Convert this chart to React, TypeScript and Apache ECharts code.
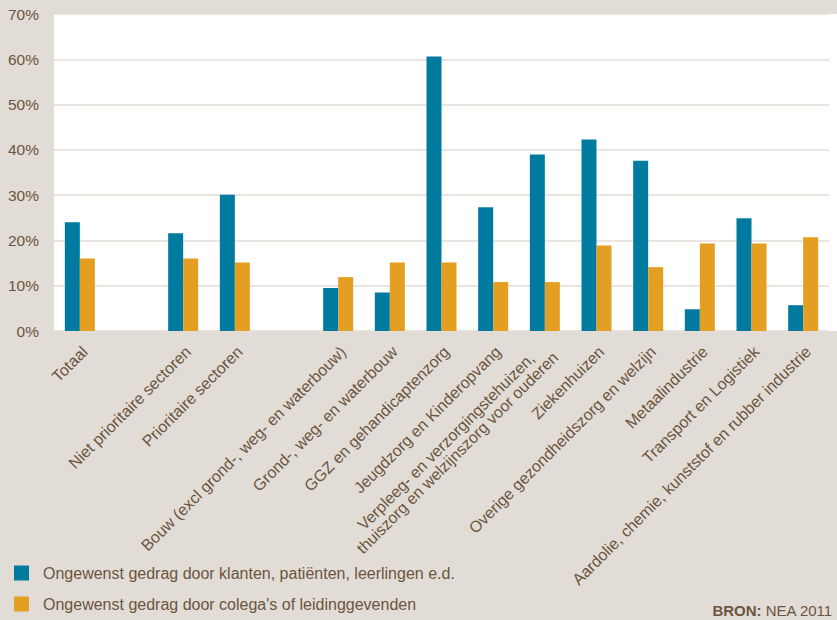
import React, { useEffect, useRef } from "react";
import * as echarts from "echarts";

const categories = [
  "Totaal",
  "",
  "Niet prioritaire sectoren",
  "Prioritaire sectoren",
  " ",
  "Bouw (excl grond-, weg- en waterbouw)",
  "Grond-, weg- en waterbouw",
  "GGZ en gehandicaptenzorg",
  "Jeugdzorg en Kinderopvang",
  "Verpleeg- en verzorgingstehuizen,\nthuiszorg en welzijnszorg voor ouderen",
  "Ziekenhuizen",
  "Overige gezondheidszorg en welzijn",
  "Metaalindustrie",
  "Transport en Logistiek",
  "Aardolie, chemie, kunststof en rubber industrie",
];

const klanten = [24.0, null, 21.6, 30.1, null, 9.5, 8.5, 60.6, 27.3, 39.0, 42.3, 37.6, 4.8, 24.9, 5.7];
const collegas = [16.0, null, 16.0, 15.1, null, 11.9, 15.1, 15.1, 10.8, 10.8, 18.9, 14.1, 19.3, 19.3, 20.7];

const seriesNames = [
  "Ongewenst gedrag door klanten, patiënten, leerlingen e.d.",
  "Ongewenst gedrag door colega's of leidinggevenden",
];

const yTicks = [0, 10, 20, 30, 40, 50, 60, 70];

const BG = "#e2dcd6";
const TEXT = "#6b553e";
const BLUE = "#007a9e";
const ORANGE = "#e49e22";
const FONT = "'Liberation Sans', Arial, sans-serif";

export default function App() {
  const ref = useRef<HTMLDivElement>(null);
  useEffect(() => {
    document.body.style.margin = "0";
    const chart = echarts.init(ref.current!, null, { renderer: "svg" });
    chart.setOption({
      animation: false,
      backgroundColor: BG,
      textStyle: { fontFamily: FONT },
      graphic: [
        {
          type: "rect",
          z: -10,
          shape: { x: 54, y: 14, width: 783, height: 317 },
          style: { fill: "#ffffff" },
          silent: true,
        },
        {
          type: "text",
          right: 4,
          top: 603,
          style: {
            text: "{b|BRON:} NEA 2011",
            fill: TEXT,
            font: `15px ${FONT}`,
            rich: {
              b: { fontWeight: "bold", fill: TEXT, fontSize: 15, fontFamily: FONT },
            },
          },
        },
      ],
      grid: [
        { left: 54, right: 8, top: 14, bottom: 289, containLabel: false },
        { left: 59, width: 775, top: 14, bottom: 289, containLabel: false },
      ],
      legend: {
        orient: "vertical",
        left: 14,
        top: 565,
        padding: 0,
        itemWidth: 15,
        itemHeight: 15,
        itemGap: 15,
        icon: "rect",
        data: seriesNames,
        textStyle: { color: TEXT, fontSize: 16, fontFamily: FONT, padding: [0, 0, 0, 9] },
      },
      xAxis: [
        {
          type: "category",
          gridIndex: 0,
          data: categories,
          axisLine: { show: false },
          axisTick: { show: false },
          axisLabel: { show: false },
        },
        {
          type: "category",
          gridIndex: 1,
          data: categories,
          axisLine: { show: false },
          axisTick: { show: false },
          axisLabel: {
            interval: 0,
            rotate: 45,
            margin: 18,
            formatter: (v: string) =>
              v
                .split("\n")
                .map((l) => `{c|${l}}`)
                .join("\n"),
            rich: {
              c: {
                align: "center",
                color: TEXT,
                fontSize: 16,
                fontFamily: FONT,
                lineHeight: 16,
              },
            },
          },
        },
      ],
      yAxis: [
        {
          type: "value",
          gridIndex: 0,
          min: 0,
          max: 70,
          interval: 10,
          axisLine: { show: false },
          axisTick: { show: false },
          axisLabel: {
            color: TEXT,
            fontSize: 15.5,
            fontFamily: FONT,
            margin: 15,
            formatter: (v: number) => (yTicks.includes(v) ? `${v}%` : ""),
          },
          splitLine: { lineStyle: { color: "#e4ddd6", width: 1.5 } },
        },
        {
          type: "value",
          gridIndex: 1,
          min: 0,
          max: 70,
          show: false,
        },
      ],
      series: [
        {
          name: seriesNames[0],
          type: "bar",
          data: klanten,
          barWidth: 15,
          barGap: "0%",
          itemStyle: { color: BLUE },
        },
        {
          name: seriesNames[1],
          type: "bar",
          data: collegas,
          barWidth: 15,
          itemStyle: { color: ORANGE },
        },
      ],
    });
    return () => chart.dispose();
  }, []);
  return (
    <div
      ref={ref}
      style={{ position: "absolute", left: 0, top: 0, width: 837, height: 620 }}
    />
  );
}
